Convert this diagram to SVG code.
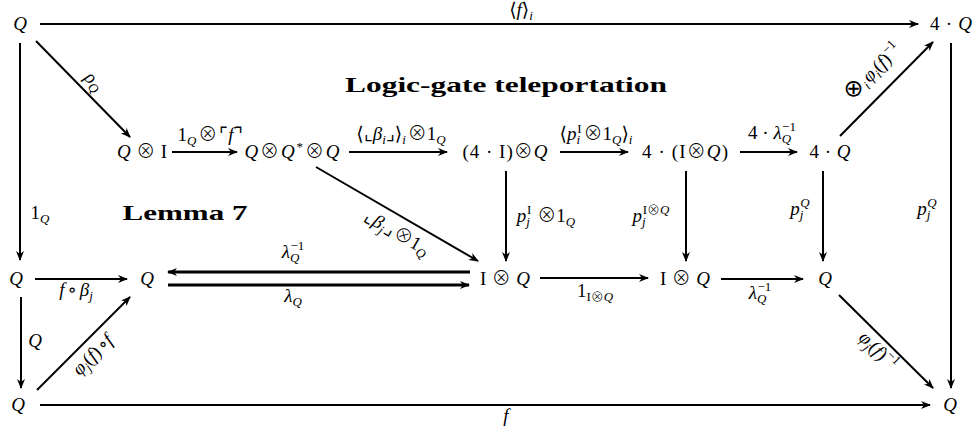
<svg xmlns="http://www.w3.org/2000/svg" width="976" height="436" viewBox="0 0 976 436">
<style>
text{font-family:"Liberation Serif","DejaVu Serif",serif;fill:#000}
.n{font-size:19px;text-anchor:middle}
.l{font-size:19px;text-anchor:middle}
.i{font-style:italic}
.s{font-size:13px}
.o{font-family:"Noto Sans CJK JP","DejaVu Sans",sans-serif;font-weight:300}
.big{font-family:"DejaVu Sans",sans-serif;font-size:24px}
.t{font-size:22px;font-weight:bold;text-anchor:middle}
line{stroke:#000;stroke-width:2}
.d{stroke-width:3}
</style>
<defs>
<marker id="ah" viewBox="0 0 10 8" refX="9" refY="4" markerWidth="11" markerHeight="8" orient="auto" markerUnits="userSpaceOnUse"><path d="M0,0 L10,4 L0,8 L3,4 z" fill="#000"/></marker>
</defs>
<rect width="976" height="436" fill="#fff"/>
<text class="t" x="506" y="92" textLength="322" lengthAdjust="spacingAndGlyphs">Logic-gate teleportation</text>
<text class="t" x="185" y="220" textLength="125" lengthAdjust="spacingAndGlyphs">Lemma 7</text>
<g id="connectors">
<g id="e-top"><line x1="40" y1="24" x2="918" y2="24" marker-end="url(#ah)"/><text class="l" x="521" y="16">⟨<tspan class="i">f</tspan>⟩<tspan class="s i" dy="4">i</tspan></text></g>
<g id="e-rho"><line x1="36" y1="41" x2="130" y2="137" marker-end="url(#ah)"/><text class="l" transform="translate(90,85) rotate(45)"><tspan class="i">ρ</tspan><tspan class="s i" dy="4">Q</tspan></text></g>
<g id="e-left1"><line x1="20" y1="43" x2="20" y2="260" marker-end="url(#ah)"/><text class="l" x="40" y="219">1<tspan class="s i" dy="4">Q</tspan></text></g>
<g id="e-r1a"><line x1="172" y1="152" x2="237" y2="152" marker-end="url(#ah)"/><text class="l" x="210" y="141">1<tspan class="s i" dy="4">Q</tspan><tspan class="o" dx="2" dy="-4">⊗</tspan><tspan dx="2">⌜</tspan><tspan class="i">f</tspan>⌝</text></g>
<g id="e-r1b"><line x1="349" y1="152" x2="447" y2="152" marker-end="url(#ah)"/><text class="l" x="401" y="140">⟨⌞<tspan class="i">β</tspan><tspan class="s i" dy="4">i</tspan><tspan dy="-4">⌟⟩</tspan><tspan class="s i" dy="4">i</tspan><tspan class="o" dx="2" dy="-4">⊗</tspan>1<tspan class="s i" dy="4">Q</tspan></text></g>
<g id="e-r1c"><line x1="560" y1="152" x2="628" y2="152" marker-end="url(#ah)"/><text class="l" x="596" y="140">⟨<tspan class="i">p</tspan><tspan class="s i" dy="4">i</tspan><tspan class="s" dx="-3" dy="-11">I</tspan><tspan class="o" dx="2" dy="7">⊗</tspan>1<tspan class="s i" dy="4">Q</tspan><tspan dy="-4">⟩</tspan><tspan class="s i" dy="4">i</tspan></text></g>
<g id="e-r1d"><line x1="740" y1="152" x2="797" y2="152" marker-end="url(#ah)"/><text class="l" x="772" y="139">4 · <tspan class="i">λ</tspan><tspan class="s i" dy="4">Q</tspan><tspan class="s" dx="-9" dy="-12">−1</tspan></text></g>
<g id="e-diag-up"><line x1="840" y1="136" x2="933" y2="42" marker-end="url(#ah)"/><text class="l" transform="translate(877,76) rotate(-45)"><tspan class="big">⊗</tspan><tspan class="s i" dy="4">i</tspan><tspan class="i" dx="2" dy="-4">φ</tspan><tspan class="s i" dy="4">i</tspan><tspan dy="-4">(</tspan><tspan class="i">f</tspan>)<tspan class="s" dy="-8">−1</tspan></text></g>
<g id="e-right"><line x1="951" y1="43" x2="951" y2="388" marker-end="url(#ah)"/><text class="l" x="927" y="215"><tspan class="i">p</tspan><tspan class="s i" dy="4">j</tspan><tspan class="s i" dx="-3" dy="-12">Q</tspan></text></g>
<g id="e-v1"><line x1="506" y1="171" x2="506" y2="261" marker-end="url(#ah)"/><text class="l" x="546" y="222"><tspan class="i">p</tspan><tspan class="s i" dy="4">j</tspan><tspan class="s" dx="-3" dy="-12">I</tspan><tspan class="o" dx="6" dy="8">⊗</tspan>1<tspan class="s i" dy="4">Q</tspan></text></g>
<g id="e-v2"><line x1="686" y1="171" x2="686" y2="261" stroke-width="2.5" marker-end="url(#ah)"/><text class="l" x="651" y="222"><tspan class="i">p</tspan><tspan class="s i" dy="4">j</tspan><tspan class="s" dx="-3" dy="-12">I<tspan class="o">⊗</tspan><tspan class="i">Q</tspan></tspan></text></g>
<g id="e-v3"><line x1="823" y1="171" x2="823" y2="261" marker-end="url(#ah)"/><text class="l" x="800" y="215"><tspan class="i">p</tspan><tspan class="s i" dy="4">j</tspan><tspan class="s i" dx="-3" dy="-12">Q</tspan></text></g>
<g id="e-diag-beta"><line x1="316" y1="167" x2="478" y2="261" marker-end="url(#ah)"/><text class="l" transform="translate(394,238) rotate(30)">⌞<tspan class="i">β</tspan><tspan class="s i" dy="4">j</tspan><tspan dx="1" dy="-4">⌟</tspan><tspan class="o" dx="1">⊗</tspan>1<tspan class="s i" dy="4">Q</tspan></text></g>
<g id="e-lam-inv"><line class="d" x1="470" y1="272" x2="168" y2="272" marker-end="url(#ah)"/><text class="l" x="293" y="258"><tspan class="i">λ</tspan><tspan class="s i" dy="4">Q</tspan><tspan class="s" dx="-9" dy="-12">−1</tspan></text></g>
<g id="e-lam"><line class="d" x1="168" y1="285" x2="469" y2="285" marker-end="url(#ah)"/><text class="l" x="293" y="302"><tspan class="i">λ</tspan><tspan class="s i" dy="4">Q</tspan></text></g>
<g id="e-fbeta"><line x1="35" y1="279" x2="127" y2="279" marker-end="url(#ah)"/><text class="l" x="76" y="296"><tspan class="i">f</tspan><tspan dx="3">∘</tspan><tspan class="i" dx="3">β</tspan><tspan class="s i" dy="4">j</tspan></text></g>
<g id="e-1IQ"><line x1="540" y1="278" x2="648" y2="278" marker-end="url(#ah)"/><text class="l" x="595" y="297">1<tspan class="s" dy="4">I<tspan class="o">⊗</tspan><tspan class="i">Q</tspan></tspan></text></g>
<g id="e-lam-inv2"><line x1="721" y1="279" x2="803" y2="279" marker-end="url(#ah)"/><text class="l" x="760" y="299"><tspan class="i">λ</tspan><tspan class="s i" dy="4">Q</tspan><tspan class="s" dx="-9" dy="-12">−1</tspan></text></g>
<g id="e-diag-phi-inv"><line x1="839" y1="295" x2="933" y2="388" marker-end="url(#ah)"/><text class="l" transform="translate(874,355) rotate(45)"><tspan class="i">φ</tspan><tspan class="s i" dy="4">j</tspan><tspan dy="-4">(</tspan><tspan class="i">f</tspan>)<tspan class="s" dy="-8">−1</tspan></text></g>
<g id="e-left2"><line x1="21" y1="297" x2="21" y2="388" marker-end="url(#ah)"/><text class="l i" x="35" y="347">Q</text></g>
<g id="e-diag-phi"><line x1="37" y1="390" x2="130" y2="297" marker-end="url(#ah)"/><text class="l" transform="translate(97,359) rotate(-45)"><tspan class="i">φ</tspan><tspan class="s i" dy="4">j</tspan><tspan dy="-4">(</tspan><tspan class="i">f</tspan>)<tspan dx="2">∘</tspan><tspan class="i">f</tspan></text></g>
<g id="e-bottom"><line x1="40" y1="405" x2="930" y2="405" marker-end="url(#ah)"/><text class="l i" x="506" y="422">f</text></g>
</g>
<g id="n-Q-tl"><text class="n i" x="20" y="30">Q</text></g>
<g id="n-4Q-tr"><text class="n" x="951" y="30" textLength="42">4 · <tspan class="i">Q</tspan></text></g>
<g id="n-QI"><text class="n" x="142" y="158" textLength="50"><tspan class="i">Q</tspan><tspan class="o">⊗</tspan>I</text></g>
<g id="n-QQQ"><text class="n" x="292" y="158" textLength="95"><tspan class="i">Q</tspan><tspan class="o">⊗</tspan><tspan class="i">Q</tspan><tspan class="s" dy="-7">*</tspan><tspan class="o" dy="7">⊗</tspan><tspan class="i">Q</tspan></text></g>
<g id="n-4IQ"><text class="n" x="505" y="158" textLength="85">(4 · I)<tspan class="o">⊗</tspan><tspan class="i">Q</tspan></text></g>
<g id="n-4IQ2"><text class="n" x="685" y="158" textLength="86">4 · (I<tspan class="o">⊗</tspan><tspan class="i">Q</tspan>)</text></g>
<g id="n-4Q-mid"><text class="n" x="830" y="158" textLength="41">4 · <tspan class="i">Q</tspan></text></g>
<g id="n-Q-ml"><text class="n i" x="16" y="285">Q</text></g>
<g id="n-Q-m2"><text class="n i" x="147" y="285">Q</text></g>
<g id="n-IQ1"><text class="n" x="505" y="285" textLength="50">I <tspan class="o">⊗</tspan> <tspan class="i">Q</tspan></text></g>
<g id="n-IQ2"><text class="n" x="685" y="285" textLength="50">I <tspan class="o">⊗</tspan> <tspan class="i">Q</tspan></text></g>
<g id="n-Q-mr"><text class="n i" x="825" y="285">Q</text></g>
<g id="n-Q-bl"><text class="n i" x="18" y="411">Q</text></g>
<g id="n-Q-br"><text class="n i" x="950" y="411">Q</text></g>
</svg>
